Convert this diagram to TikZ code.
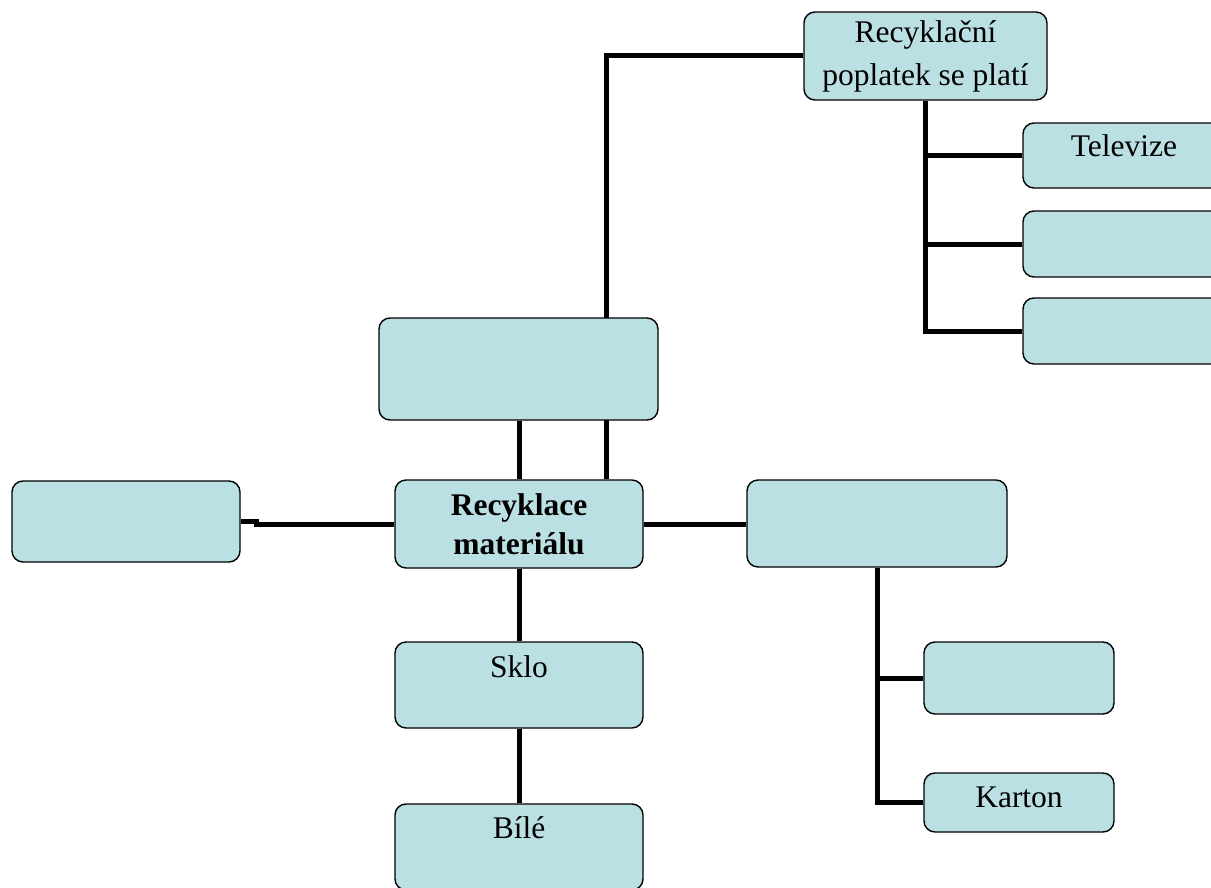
\documentclass[tikz,border=0pt]{standalone}
\usepackage{fontspec}
\setmainfont{Liberation Serif}
\usetikzlibrary{backgrounds}
\definecolor{boxfill}{HTML}{BBE0E3}
\begin{document}
\begin{tikzpicture}[x=1pt,y=-1pt,
  box/.style={draw=black, line width=1.4pt, fill=boxfill, rounded corners=11pt,
    inner sep=0pt, font=\fontsize{31.5}{43}\selectfont},
  conn/.style={draw=black, line width=5pt, line join=miter}]
\useasboundingbox (0,0) rectangle (1211,888);
\clip (0,0) rectangle (1211,888);

% boxes
\node[box, minimum width=243, minimum height=88, align=center] (fee) at (925.5,56) {Recyklační\\poplatek se platí};
\node[box, minimum width=202, text height=34, text depth=31] (tv) at (1124,155.5) {Televize};
\node[box, minimum width=202, minimum height=66] (b2) at (1124,244) {};
\node[box, minimum width=202, minimum height=66] (b3) at (1124,331) {};
\node[box, minimum width=279, minimum height=102] (big) at (518.5,369) {};
\node[box, minimum width=248, minimum height=88, align=center,
      font=\bfseries\fontsize{31.5}{39}\selectfont] (mat) at (519,524) {Recyklace\\materiálu};
\node[box, minimum width=228, minimum height=81] (left) at (126,521.5) {};
\node[box, minimum width=260, minimum height=87] (right) at (877,523.5) {};
\node[box, minimum width=248, text height=35, text depth=51] (sklo) at (519,685) {Sklo};
\node[box, minimum width=248, text height=34, text depth=52] (bile) at (519,847) {Bílé};
\node[box, minimum width=190, minimum height=72] (c1) at (1019,678) {};
\node[box, minimum width=190, text height=34, text depth=25] (karton) at (1019,802.5) {Karton};

% connectors
\begin{pgfonlayer}{background}
  \draw[conn] (left.east) -- ([xshift=16pt]left.east) |- (mat.west);
  \draw[conn] (mat.east) -- (mat.east -| right.west);
  \draw[conn] (mat.north) -- (mat.north |- big.south);
  \draw[conn] ([xshift=87pt]mat.north) |- (fee.west);
  \draw[conn] (fee.south) |- (tv.west);
  \draw[conn] (fee.south) |- (b2.west);
  \draw[conn] (fee.south) |- (b3.west);
  \draw[conn] (right.south) |- (c1.west);
  \draw[conn] (right.south) |- (karton.west);
  \draw[conn] (mat.south) -- (sklo.north);
  \draw[conn] (sklo.south) -- (bile.north);
\end{pgfonlayer}
\end{tikzpicture}
\end{document}
